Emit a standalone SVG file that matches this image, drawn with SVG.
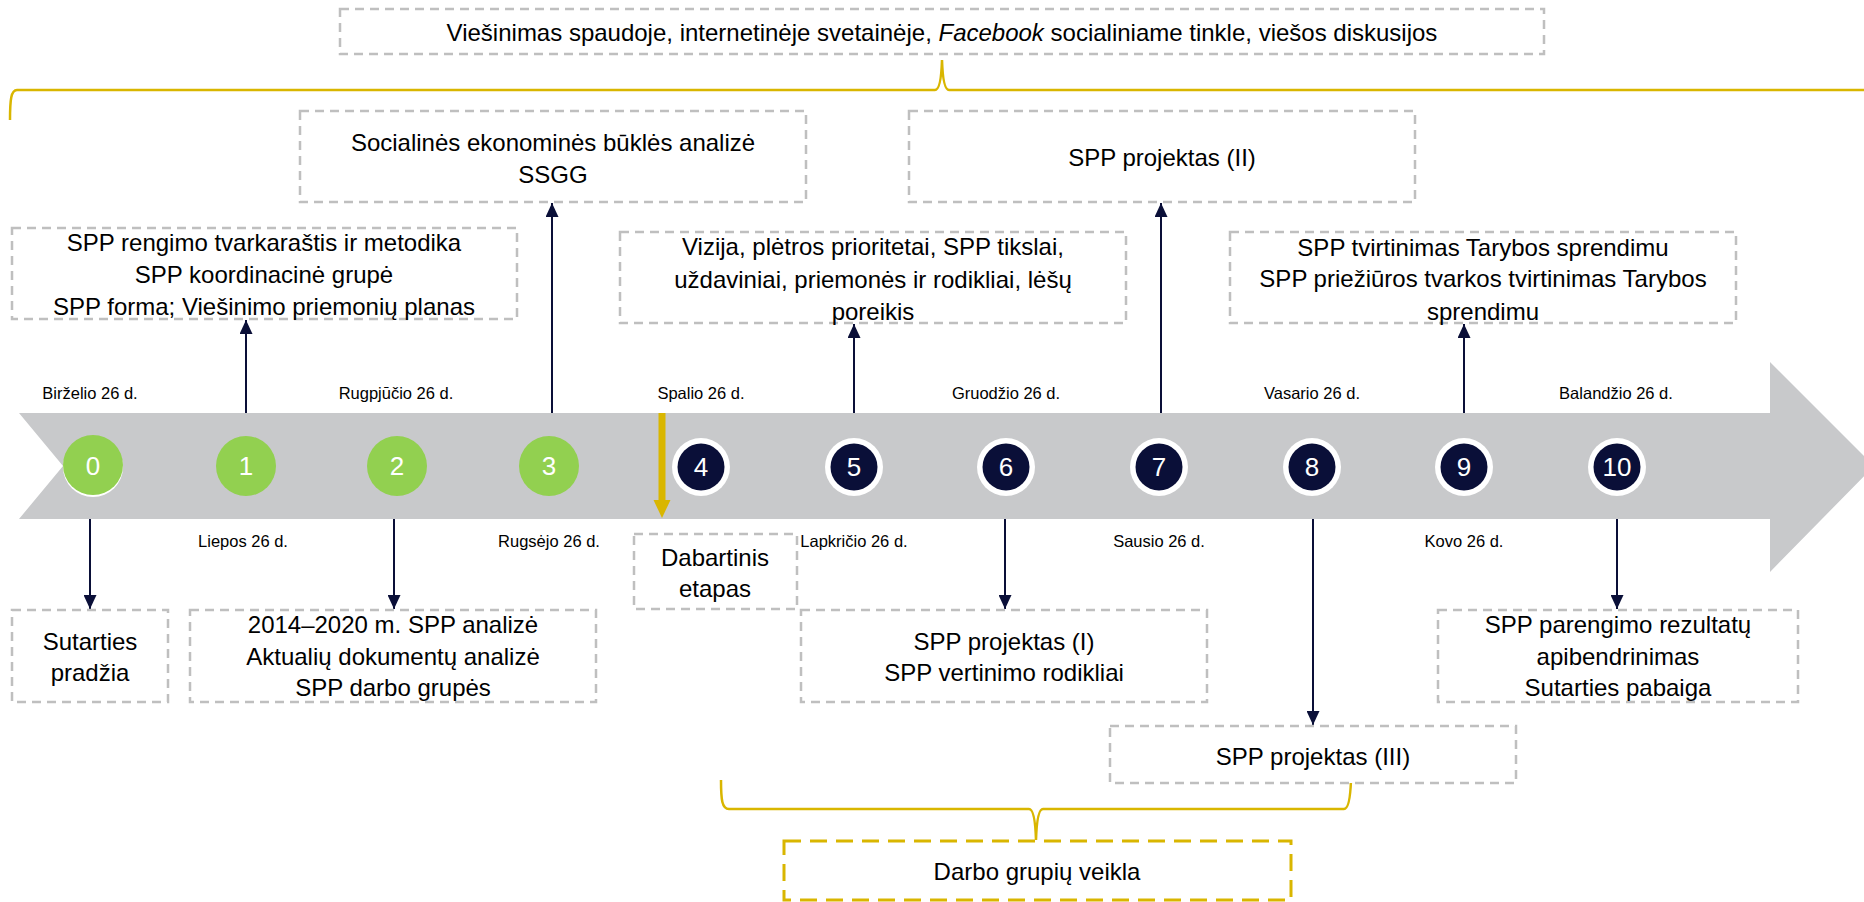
<svg xmlns="http://www.w3.org/2000/svg" width="1864" height="902" viewBox="0 0 1864 902">
<style>
.box{fill:#ffffff;stroke:#BFBFBF;stroke-width:2.5;stroke-dasharray:9 6}
.ybox{fill:#ffffff;stroke:#D9B600;stroke-width:3;stroke-dasharray:17 9}
.t{font-family:"Liberation Sans",Arial,sans-serif;font-size:24px;fill:#000000;text-anchor:middle}
.d{font-family:"Liberation Sans",Arial,sans-serif;font-size:16.5px;fill:#000000;text-anchor:middle}
.n{font-family:"Liberation Sans",Arial,sans-serif;font-size:26px;fill:#ffffff;text-anchor:middle}
.g{fill:#92D050}
.w{fill:#ffffff}
.k{fill:#0A0F38}
.c{stroke:#0A0F38;stroke-width:2;fill:none}
.br{stroke:#D9B600;stroke-width:2.5;fill:none}
</style>
<defs>
<marker id="ah" markerUnits="userSpaceOnUse" markerWidth="14" markerHeight="13" refX="14" refY="6.5" orient="auto">
<path d="M0,0 L14,6.5 L0,13 z" fill="#0A0F38"/>
</marker>
</defs>

<g id="timeline">
<polygon points="19,413 1770,413 1770,362 1874,466 1770,572 1770,519 19,519 63,466" fill="#C8C9CB"/>
</g>

<g id="connectors">
<line class="c" x1="246" y1="413" x2="246" y2="320" marker-end="url(#ah)"/>
<line class="c" x1="552" y1="413" x2="552" y2="203" marker-end="url(#ah)"/>
<line class="c" x1="854" y1="413" x2="854" y2="324" marker-end="url(#ah)"/>
<line class="c" x1="1161" y1="413" x2="1161" y2="203" marker-end="url(#ah)"/>
<line class="c" x1="1464" y1="413" x2="1464" y2="324" marker-end="url(#ah)"/>
<line class="c" x1="90" y1="519" x2="90" y2="609" marker-end="url(#ah)"/>
<line class="c" x1="394" y1="519" x2="394" y2="609" marker-end="url(#ah)"/>
<line class="c" x1="1005" y1="519" x2="1005" y2="609" marker-end="url(#ah)"/>
<line class="c" x1="1313" y1="519" x2="1313" y2="725" marker-end="url(#ah)"/>
<line class="c" x1="1617" y1="519" x2="1617" y2="609" marker-end="url(#ah)"/>
<line x1="662" y1="413" x2="662" y2="502" stroke="#D9B600" stroke-width="7"/>
<polygon points="653.5,500 670.5,500 662,518" fill="#D9B600"/>
<path class="br" d="M10,120 C10,100 11,90 17,90 L935,90 Q941,90 942,60 Q943,90 949,90 L1870,90"/>
<path class="br" d="M721,780 C721,800 722,809 729,809 L1029,809 Q1035,809 1036,840 Q1037,809 1043,809 L1344,809 Q1350,809 1351,780"/>
</g>

<g id="m0"><circle class="w" cx="93" cy="467" r="30"/><circle class="g" cx="93" cy="465" r="30"/><text class="n" x="93" y="475">0</text></g>
<g id="m1"><circle class="g" cx="246" cy="466" r="30"/><text class="n" x="246" y="475">1</text></g>
<g id="m2"><circle class="g" cx="397" cy="466" r="30"/><text class="n" x="397" y="475">2</text></g>
<g id="m3"><circle class="g" cx="549" cy="466" r="30"/><text class="n" x="549" y="475">3</text></g>
<g id="m4"><circle class="w" cx="701" cy="467" r="29"/><circle class="k" cx="701" cy="467" r="23.5"/><text class="n" x="701" y="476">4</text></g>
<g id="m5"><circle class="w" cx="854" cy="467" r="29"/><circle class="k" cx="854" cy="467" r="23.5"/><text class="n" x="854" y="476">5</text></g>
<g id="m6"><circle class="w" cx="1006" cy="467" r="29"/><circle class="k" cx="1006" cy="467" r="23.5"/><text class="n" x="1006" y="476">6</text></g>
<g id="m7"><circle class="w" cx="1159" cy="467" r="29"/><circle class="k" cx="1159" cy="467" r="23.5"/><text class="n" x="1159" y="476">7</text></g>
<g id="m8"><circle class="w" cx="1312" cy="467" r="29"/><circle class="k" cx="1312" cy="467" r="23.5"/><text class="n" x="1312" y="476">8</text></g>
<g id="m9"><circle class="w" cx="1464" cy="467" r="29"/><circle class="k" cx="1464" cy="467" r="23.5"/><text class="n" x="1464" y="476">9</text></g>
<g id="m10"><circle class="w" cx="1617" cy="467" r="29"/><circle class="k" cx="1617" cy="467" r="23.5"/><text class="n" x="1617" y="476">10</text></g>

<g id="dates">
<text class="d" x="90" y="399">Birželio 26 d.</text>
<text class="d" x="396" y="399">Rugpjūčio 26 d.</text>
<text class="d" x="701" y="399">Spalio 26 d.</text>
<text class="d" x="1006" y="399">Gruodžio 26 d.</text>
<text class="d" x="1312" y="399">Vasario 26 d.</text>
<text class="d" x="1616" y="399">Balandžio 26 d.</text>
<text class="d" x="243" y="547">Liepos 26 d.</text>
<text class="d" x="549" y="547">Rugsėjo 26 d.</text>
<text class="d" x="854" y="547">Lapkričio 26 d.</text>
<text class="d" x="1159" y="547">Sausio 26 d.</text>
<text class="d" x="1464" y="547">Kovo 26 d.</text>
</g>

<g id="viesinimas">
<rect class="box" x="340" y="9" width="1204" height="45"/>
<text class="t" x="942" y="41">Viešinimas spaudoje, internetinėje svetainėje, <tspan font-style="italic">Facebook</tspan> socialiniame tinkle, viešos diskusijos</text>
</g>
<g id="socialines">
<rect class="box" x="300" y="111" width="506" height="91"/>
<text class="t" x="553" y="151">Socialinės ekonominės būklės analizė</text>
<text class="t" x="553" y="183">SSGG</text>
</g>
<g id="projektas2">
<rect class="box" x="909" y="111" width="506" height="91"/>
<text class="t" x="1162" y="166">SPP projektas (II)</text>
</g>
<g id="rengimo">
<rect class="box" x="12" y="228" width="505" height="91"/>
<text class="t" x="264" y="251">SPP rengimo tvarkaraštis ir metodika</text>
<text class="t" x="264" y="283">SPP koordinacinė grupė</text>
<text class="t" x="264" y="315">SPP forma; Viešinimo priemonių planas</text>
</g>
<g id="vizija">
<rect class="box" x="620" y="232" width="506" height="91"/>
<text class="t" x="873" y="255">Vizija, plėtros prioritetai, SPP tikslai,</text>
<text class="t" x="873" y="288">uždaviniai, priemonės ir rodikliai, lėšų</text>
<text class="t" x="873" y="320">poreikis</text>
</g>
<g id="tvirtinimas">
<rect class="box" x="1230" y="232" width="506" height="91"/>
<text class="t" x="1483" y="256">SPP tvirtinimas Tarybos sprendimu</text>
<text class="t" x="1483" y="287">SPP priežiūros tvarkos tvirtinimas Tarybos</text>
<text class="t" x="1483" y="320">sprendimu</text>
</g>
<g id="sutarties">
<rect class="box" x="12" y="610" width="156" height="92"/>
<text class="t" x="90" y="650">Sutarties</text>
<text class="t" x="90" y="681">pradžia</text>
</g>
<g id="analize">
<rect class="box" x="190" y="610" width="406" height="92"/>
<text class="t" x="393" y="633">2014–2020 m. SPP analizė</text>
<text class="t" x="393" y="665">Aktualių dokumentų analizė</text>
<text class="t" x="393" y="696">SPP darbo grupės</text>
</g>
<g id="dabartinis">
<rect class="box" x="634" y="534" width="163" height="75"/>
<text class="t" x="715" y="566">Dabartinis</text>
<text class="t" x="715" y="597">etapas</text>
</g>
<g id="projektas1">
<rect class="box" x="801" y="610" width="406" height="92"/>
<text class="t" x="1004" y="650">SPP projektas (I)</text>
<text class="t" x="1004" y="681">SPP vertinimo rodikliai</text>
</g>
<g id="projektas3">
<rect class="box" x="1110" y="726" width="406" height="57"/>
<text class="t" x="1313" y="765">SPP projektas (III)</text>
</g>
<g id="parengimo">
<rect class="box" x="1438" y="610" width="360" height="92"/>
<text class="t" x="1618" y="633">SPP parengimo rezultatų</text>
<text class="t" x="1618" y="665">apibendrinimas</text>
<text class="t" x="1618" y="696">Sutarties pabaiga</text>
</g>
<g id="darbo">
<rect class="ybox" x="784" y="841" width="507" height="59"/>
<text class="t" x="1037" y="880">Darbo grupių veikla</text>
</g>
</svg>
